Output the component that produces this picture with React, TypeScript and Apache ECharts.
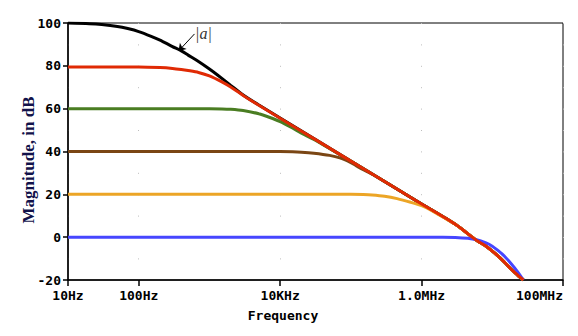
import React, { useEffect, useRef } from "react";
import * as echarts from "echarts";

// Frequencies (Hz) and magnitudes (dB)
const openLoopF = [10, 20, 30, 50, 70, 100, 150, 200, 300, 400, 500, 700, 1000, 1300, 2000, 3000, 5000, 1e4, 3e4, 1e5, 3e5, 1e6, 3e6, 6e6, 8e6, 1e7, 1.2e7, 1.5e7, 1.85e7, 2.3e7, 2.75e7];
const openLoopDb = [100, 99.7, 99.3, 98.4, 97.4, 96, 93.8, 92, 89, 87, 85, 82, 78.5, 75.7, 70.9, 66.4, 61.7, 55.6, 46, 35.5, 26, 15.5, 6, -1.5, -4, -6.5, -8.7, -11.8, -15, -17.8, -20];

const gain80F = [10, 100, 200, 300, 400, 500, 700, 1000, 1500, 2000, 3000, 5000, 1e4, 3e4, 1e5, 3e5, 1e6, 3e6, 6e6, 8e6, 1e7, 1.2e7, 1.5e7, 1.85e7, 2.3e7, 2.75e7];
const gain80Db = [79.5, 79.5, 79.2, 78.8, 78.3, 77.8, 76.9, 75.3, 72.5, 70.1, 66.2, 61.6, 55.5, 46, 35.5, 26, 15.5, 6, -1.5, -4, -6.5, -8.7, -11.8, -15, -17.8, -20];

const gain60F = [10, 1000, 1500, 2000, 3000, 5000, 7000, 1e4, 1.4e4, 2e4, 3e4, 1e5, 3e5, 1e6, 3e6, 6e6, 8e6, 1e7, 1.2e7, 1.5e7, 1.85e7, 2.3e7, 2.75e7];
const gain60Db = [60, 60, 59.9, 59.7, 59.1, 57.6, 56, 54, 51.5, 48.6, 45.6, 35.5, 26, 15.5, 6, -1.5, -4, -6.5, -8.7, -11.8, -15, -17.8, -20];

const gain40F = [10, 1e4, 1.5e4, 2e4, 3e4, 5e4, 7e4, 1e5, 1.2e5, 1.5e5, 2e5, 3e5, 1e6, 3e6, 6e6, 8e6, 1e7, 1.2e7, 1.5e7, 1.85e7, 2.3e7, 2.75e7];
const gain40Db = [40, 40, 39.9, 39.7, 39.2, 38.2, 37, 34.8, 33.3, 31.5, 29.4, 26, 15.5, 6, -1.5, -4, -6.5, -8.7, -11.8, -15, -17.8, -20];

const gain20F = [10, 1e5, 1.5e5, 2e5, 3e5, 4.5e5, 7e5, 1e6, 1.4e6, 2e6, 3e6, 6e6, 8e6, 1e7, 1.2e7, 1.5e7, 1.85e7, 2.3e7, 2.75e7];
const gain20Db = [20, 20, 19.9, 19.7, 19.1, 18, 16.3, 14.7, 12.4, 9.4, 6, -1.5, -4, -6.5, -8.7, -11.8, -15, -17.8, -20];

const gain0F = [10, 1e6, 2e6, 3e6, 4.5e6, 6e6, 8e6, 1e7, 1.2e7, 1.5e7, 1.85e7, 2.3e7, 2.75e7];
const gain0Db = [0, 0, 0, -0.1, -0.5, -1.2, -2.6, -4.2, -6.2, -9, -12.4, -16.3, -20];

const xTickValues = [10, 100, 1e4, 1e6, 1e8];
const xTickLabels = ["10Hz", "100Hz", "10KHz", "1.0MHz", "100MHz"];
const yTicks = [-20, 0, 20, 40, 60, 80, 100];

const arrowFrom = [615, 94.9];
const arrowTo = [366, 86.9];
const annotationAt = [823, 95.1];

const zip = (f: number[], d: number[]) => f.map((v, i) => [v, d[i]]);

export default function App() {
  const ref = useRef<HTMLDivElement>(null);
  useEffect(() => {
    if (!ref.current) return;
    const chart = echarts.init(ref.current, null, { renderer: "svg" });
    const tickFont = {
      fontFamily: "DejaVu Sans Mono",
      fontWeight: "bold" as const,
      fontSize: 13,
      color: "#000",
    };
    const line = (name: string, f: number[], d: number[], color: string, extra: any = {}) => ({
      name,
      type: "line",
      data: zip(f, d),
      showSymbol: false,
      smooth: 0.25,
      lineStyle: { color, width: 3 },
      itemStyle: { color },
      ...extra,
    });
    chart.setOption({
      animation: false,
      backgroundColor: "#fff",
      grid: {
        left: 68,
        top: 23,
        right: 15,
        bottom: 56,
        show: true,
        borderColor: "#000",
        borderWidth: 1,
      },
      xAxis: {
        type: "log",
        logBase: 10,
        min: 10,
        max: 1e8,
        axisLine: { onZero: false, lineStyle: { color: "#000", width: 1.5 } },
        axisTick: { show: true, length: 6, customValues: xTickValues, lineStyle: { color: "#000", width: 1.5 } },
        axisLabel: {
          ...tickFont,
          margin: 9,
          customValues: xTickValues,
          alignMaxLabel: "right",
          formatter: (v: number) => {
            const i = xTickValues.findIndex((t) => Math.abs(Math.log10(t) - Math.log10(v)) < 1e-6);
            return i >= 0 ? xTickLabels[i] : "";
          },
        },
        splitLine: {
          show: true,
          lineStyle: { color: "#bdbdbd", width: 1, type: [1, 20.4] },
        },
        minorTick: { show: false },
      },
      yAxis: {
        type: "value",
        min: -20,
        max: 100,
        interval: 20,
        axisLine: { show: true, lineStyle: { color: "#000", width: 1.5 } },
        axisTick: { show: true, length: 5, lineStyle: { color: "#000", width: 1.5 } },
        axisLabel: { ...tickFont, margin: 7, customValues: yTicks },
        splitLine: { show: false },
      },
      graphic: [
        {
          type: "text",
          x: 28,
          y: 160,
          rotation: Math.PI / 2,
          style: {
            text: "Magnitude, in dB",
            fontFamily: "Liberation Serif",
            fontWeight: "bold",
            fontSize: 17,
            fill: "#12124a",
            align: "center",
            verticalAlign: "middle",
          },
        },
        {
          type: "text",
          x: 283,
          y: 315,
          style: {
            text: "Frequency",
            fontFamily: "DejaVu Sans Mono",
            fontWeight: "bold",
            fontSize: 13,
            fill: "#000",
            align: "center",
            verticalAlign: "middle",
          },
        },
      ],
      series: [
        line("|a|", openLoopF, openLoopDb, "#000000", {
          markLine: {
            silent: true,
            symbol: ["none", "arrow"],
            symbolSize: 7,
            label: { show: false },
            lineStyle: { color: "#000", width: 1, type: "solid" },
            data: [[{ coord: arrowFrom }, { coord: arrowTo }]],
          },
          markPoint: {
            silent: true,
            symbol: "rect",
            symbolSize: 0.1,
            label: {
              show: true,
              position: "inside",
              formatter: "|a|",
              fontFamily: "Liberation Serif",
              fontStyle: "italic",
              fontSize: 16,
              color: "#333",
            },
            data: [{ coord: annotationAt }],
          },
        }),
        line("60 dB", gain60F, gain60Db, "#4a7d22"),
        line("40 dB", gain40F, gain40Db, "#7a4614"),
        line("20 dB", gain20F, gain20Db, "#eca526"),
        line("0 dB", gain0F, gain0Db, "#4646ff"),
        line("80 dB", gain80F, gain80Db, "#e02a04"),
      ],
    });
    return () => chart.dispose();
  }, []);
  return <div ref={ref} style={{ width: 578, height: 336, margin: -8 }} />;
}
